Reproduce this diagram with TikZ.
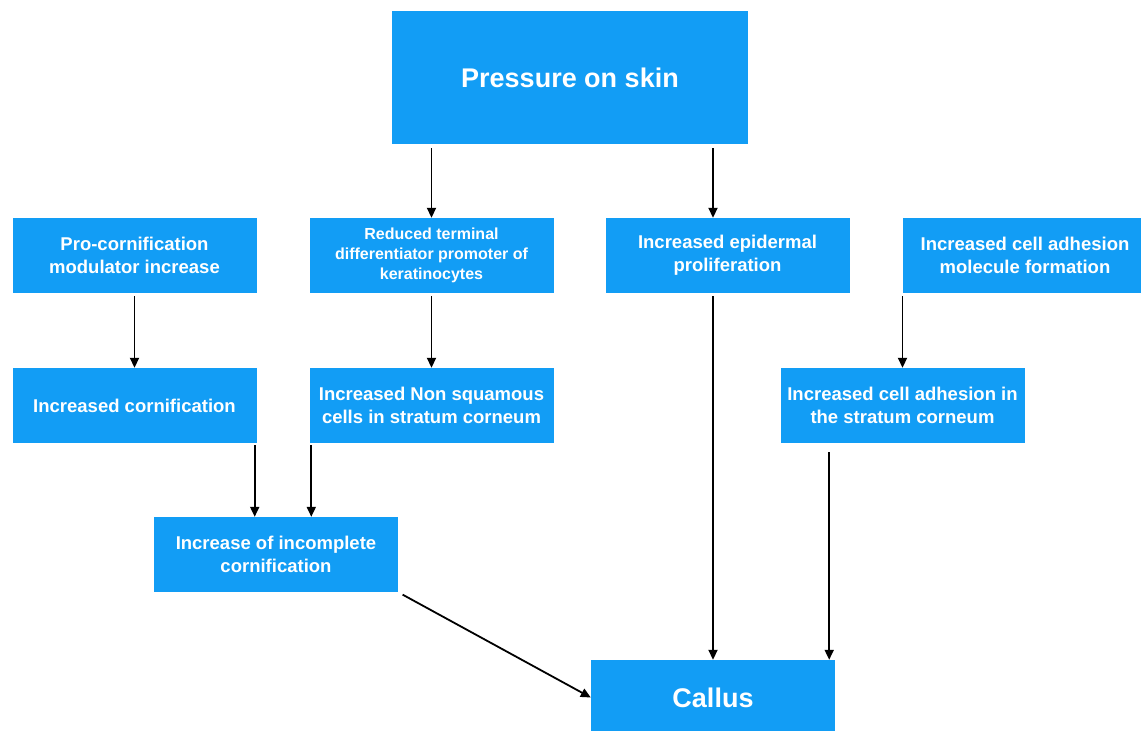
\documentclass[tikz,border=0pt]{standalone}
\usepackage{fontspec}
\setmainfont{Liberation Sans}
\usetikzlibrary{arrows.meta,calc}
\definecolor{boxblue}{RGB}{18,157,245}
\begin{document}
\begin{tikzpicture}[x=1pt,y=-1pt,
  box/.style={fill=boxblue,draw=none,inner sep=0pt,minimum width=244pt,minimum height=75pt,
    align=center,text=white,font=\bfseries\fontsize{18.5}{23}\selectfont},
  smallbox/.style={box,font=\bfseries\fontsize{16}{20}\selectfont},
  bigbox/.style={box,font=\bfseries\fontsize{27}{32}\selectfont},
  arr/.style={draw=black,line width=1.8pt,-{Triangle[length=10pt,width=9pt]}}]
\fill[white] (0,0) rectangle (1141,731);
\clip (0,0) rectangle (1141,731);
\useasboundingbox (0,0) rectangle (1141,731);

\node[bigbox,minimum width=356pt,minimum height=133pt] (press) at (570,77.5) {Pressure on skin};
\node[box] (pro) at (134.5,255.5) {Pro-cornification\\modulator increase};
\node[smallbox] (red) at (431.5,255.5) {Reduced terminal\\differentiator promoter of\\keratinocytes};
\node[box] (epi) at (727.5,255.5) {Increased epidermal\\proliferation};
\node[box] (mol) at (1025,255.5) {Increased cell adhesion\\molecule formation};
\node[box] (corn) at (134.5,405.5) {Increased cornification};
\node[box] (nonsq) at (431.5,405.5) {Increased Non squamous\\cells in stratum corneum};
\node[box] (adh) at (902.5,405.5) {Increased cell adhesion in\\the stratum corneum};
\node[box] (inc) at (276,554.5) {Increase of incomplete\\cornification};
\node[bigbox] (callus) at (713,697.5) {Callus};

\draw[arr,shorten <=4pt] (press.south -| red) -- (red.north);
\draw[arr,shorten <=4pt] (press.south -| callus) -- (epi.north -| callus);
\draw[arr,shorten <=3pt] (pro.south) -- (corn.north);
\draw[arr,shorten <=3pt] (red.south) -- (nonsq.north);
\draw[arr,shorten <=3pt] (adh.north |- mol.south) -- (adh.north);
\draw[arr,shorten <=2pt] ([xshift=-2pt]corn.south east) -- ([xshift=-2pt]corn.south east |- inc.north);
\draw[arr,shorten <=2pt] ([xshift=2pt]nonsq.south west) -- ([xshift=2pt]nonsq.south west |- inc.north);
\draw[arr,shorten <=3pt] (epi.south -| callus) -- (callus.north);
\draw[arr,shorten <=9pt] ([xshift=-6pt]callus.north east |- adh.south) -- ([xshift=-6pt]callus.north east);
\draw[arr,shorten <=5pt] (inc.south east) -- (callus.west);
\end{tikzpicture}
\end{document}
